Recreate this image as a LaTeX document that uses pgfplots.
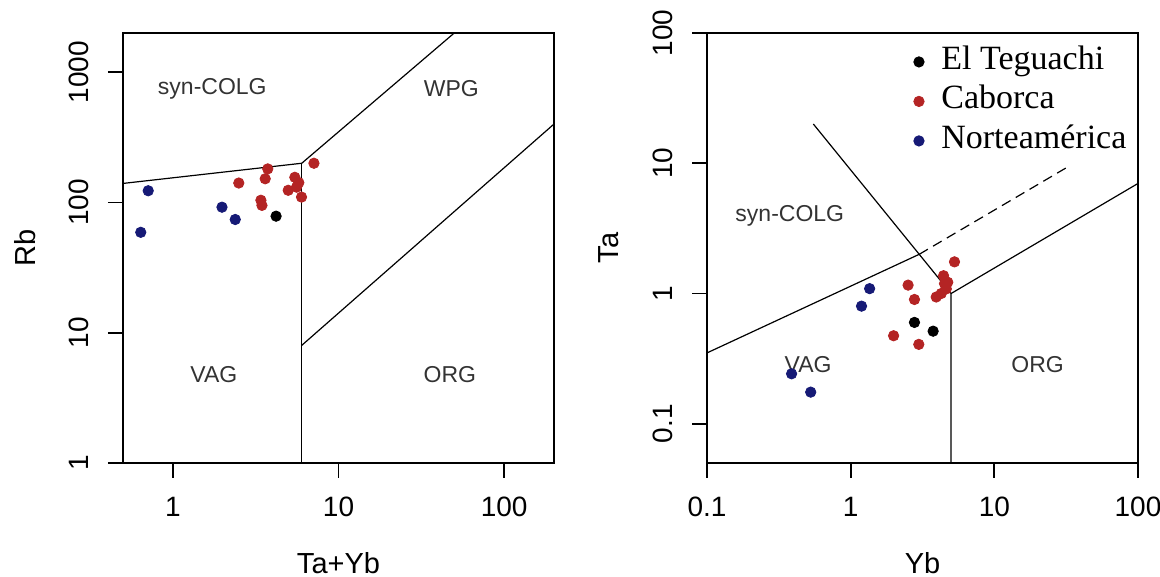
\documentclass[border=0pt]{standalone}
\usepackage{pgfplots}
\pgfplotsset{compat=1.18}
\usepackage{fontspec}
\setmainfont{Liberation Sans}
\newfontfamily\legendfont{Liberation Serif}

\definecolor{teguachi}{RGB}{0,0,0}
\definecolor{caborca}{RGB}{180,36,36}
\definecolor{norte}{RGB}{22,26,118}

\newcommand{\regionfont}{\fontsize{11.5}{13}\selectfont}

\begin{document}
\begin{tikzpicture}
\useasboundingbox (-61.5pt,-57pt) rectangle (518.5pt,231.5pt);

% Rb vs Ta+Yb
\begin{axis}[
  scale only axis, width=215.5pt, height=215pt,
  xmode=log, ymode=log,
  axis line style={line width=0.9pt},
  tick align=outside, major tick length=7.5pt,
  xtick pos=bottom, ytick pos=left,
  tick style={line width=0.9pt, black},
  xminorticks=false, yminorticks=false,
  ticklabel style={font=\fontsize{14}{16}\selectfont, inner sep=0pt},
  xticklabel style={anchor=center, yshift=-14.5pt},
  yticklabel style={xshift=-14.5pt, rotate=90, anchor=center},
  label style={font=\fontsize{14.5}{17}\selectfont},
  xlabel style={at={(axis description cs:0.5,-0.2326)}, anchor=center},
  ylabel style={at={(axis description cs:-0.2274,0.5)}, anchor=center},
  xmin=0.5, xmax=200, ymin=1, ymax=2000,
  xtick={1,10,100}, xticklabels={1,10,100},
  ytick={1,10,100,1000}, yticklabels={1,10,100,1000},
  xlabel={Ta+Yb}, ylabel={Rb}]
  \addplot[black, line width=0.6pt, forget plot] coordinates {(0.5,140) (6,200) (50,2000)};
  \addplot[black, line width=0.6pt, forget plot] coordinates {(6,1) (6,200)};
  \addplot[black, line width=0.6pt, forget plot] coordinates {(6,8) (200,400)};
  \node[font=\regionfont, text=black!80] at (axis cs:1.73,748) {syn-COLG};
  \node[font=\regionfont, text=black!80] at (axis cs:48,748) {WPG};
  \node[font=\regionfont, text=black!80] at (axis cs:1.77,4.8) {VAG};
  \node[font=\regionfont, text=black!80] at (axis cs:47,4.8) {ORG};
  \addplot[only marks, mark=*, mark size=2.6pt, teguachi] coordinates {(4.2,78.5)};
  \addplot[only marks, mark=*, mark size=2.6pt, caborca] coordinates {
    (3.74,181) (3.61,152) (2.50,141) (7.11,200) (5.45,156) (5.58,131)
    (4.97,124) (5.98,110) (5.76,142) (3.40,104) (3.45,95)};
  \addplot[only marks, mark=*, mark size=2.6pt, norte] coordinates {(0.71,123) (0.64,59) (1.98,92) (2.38,74)};
\end{axis}

% Ta vs Yb
\begin{axis}[at={(292pt,0pt)}, anchor=south west,
  scale only axis, width=215.5pt, height=215pt,
  xmode=log, ymode=log,
  axis line style={line width=0.9pt},
  tick align=outside, major tick length=7.5pt,
  xtick pos=bottom, ytick pos=left,
  tick style={line width=0.9pt, black},
  xminorticks=false, yminorticks=false,
  ticklabel style={font=\fontsize{14}{16}\selectfont, inner sep=0pt},
  xticklabel style={anchor=center, yshift=-14.5pt},
  yticklabel style={xshift=-14.5pt, rotate=90, anchor=center},
  label style={font=\fontsize{14.5}{17}\selectfont},
  xlabel style={at={(axis description cs:0.5,-0.2326)}, anchor=center},
  ylabel style={at={(axis description cs:-0.2274,0.5)}, anchor=center},
  xmin=0.1, xmax=100, ymin=0.05, ymax=100,
  xtick={0.1,1,10,100}, xticklabels={0.1,1,10,100},
  ytick={0.1,1,10,100}, yticklabels={0.1,1,10,100},
  xlabel={Yb}, ylabel={Ta},
  legend cell align=left,
  legend image code/.code={%
    \draw[opacity=0] (0pt,0pt) -- (13pt,0pt);
    \draw[mark repeat=2,mark phase=2,#1] plot coordinates {(0pt,0pt) (3pt,0pt) (13pt,0pt)};},
  legend style={draw=none, fill=none, inner sep=0pt, row sep=3.25pt,
    at={(axis description cs:0.476,0.972)}, anchor=north west,
    font=\legendfont\fontsize{17}{19}\selectfont,
    nodes={inner sep=1pt, text height=11pt, text depth=3.5pt}}]
  \addplot[black, line width=0.6pt, forget plot] coordinates {(0.1,0.35) (3,2)};
  \addplot[black, line width=0.6pt, forget plot] coordinates {(0.55,20) (5,1) (5,0.05)};
  \addplot[black, line width=0.6pt, forget plot] coordinates {(5,1) (100,7)};
  \addplot[black, line width=0.6pt, forget plot, dash pattern=on 5pt off 3pt] coordinates {(3,2) (31.5,9.2)};
  \node[font=\regionfont, text=black!80] at (axis cs:0.377,3.92) {syn-COLG};
  \node[font=\regionfont, text=black!80] at (axis cs:0.505,0.287) {VAG};
  \node[font=\regionfont, text=black!80] at (axis cs:20,0.287) {ORG};
  \addplot[only marks, mark=*, mark size=2.6pt, teguachi] coordinates {(2.78,0.60) (3.75,0.514)};
  \addlegendentry{El Teguachi}
  \addplot[only marks, mark=*, mark size=2.6pt, caborca] coordinates {
    (1.99,0.474) (2.98,0.407) (2.78,0.90) (2.51,1.16) (5.28,1.75) (4.43,1.37)
    (4.74,1.22) (4.50,1.19) (3.94,0.94) (4.63,1.085) (4.27,1.0)};
  \addlegendentry{Caborca}
  \addplot[only marks, mark=*, mark size=2.6pt, norte] coordinates {(1.355,1.09) (1.19,0.80) (0.388,0.242) (0.527,0.175)};
  \addlegendentry{Norteamérica}
\end{axis}
\end{tikzpicture}
\end{document}
